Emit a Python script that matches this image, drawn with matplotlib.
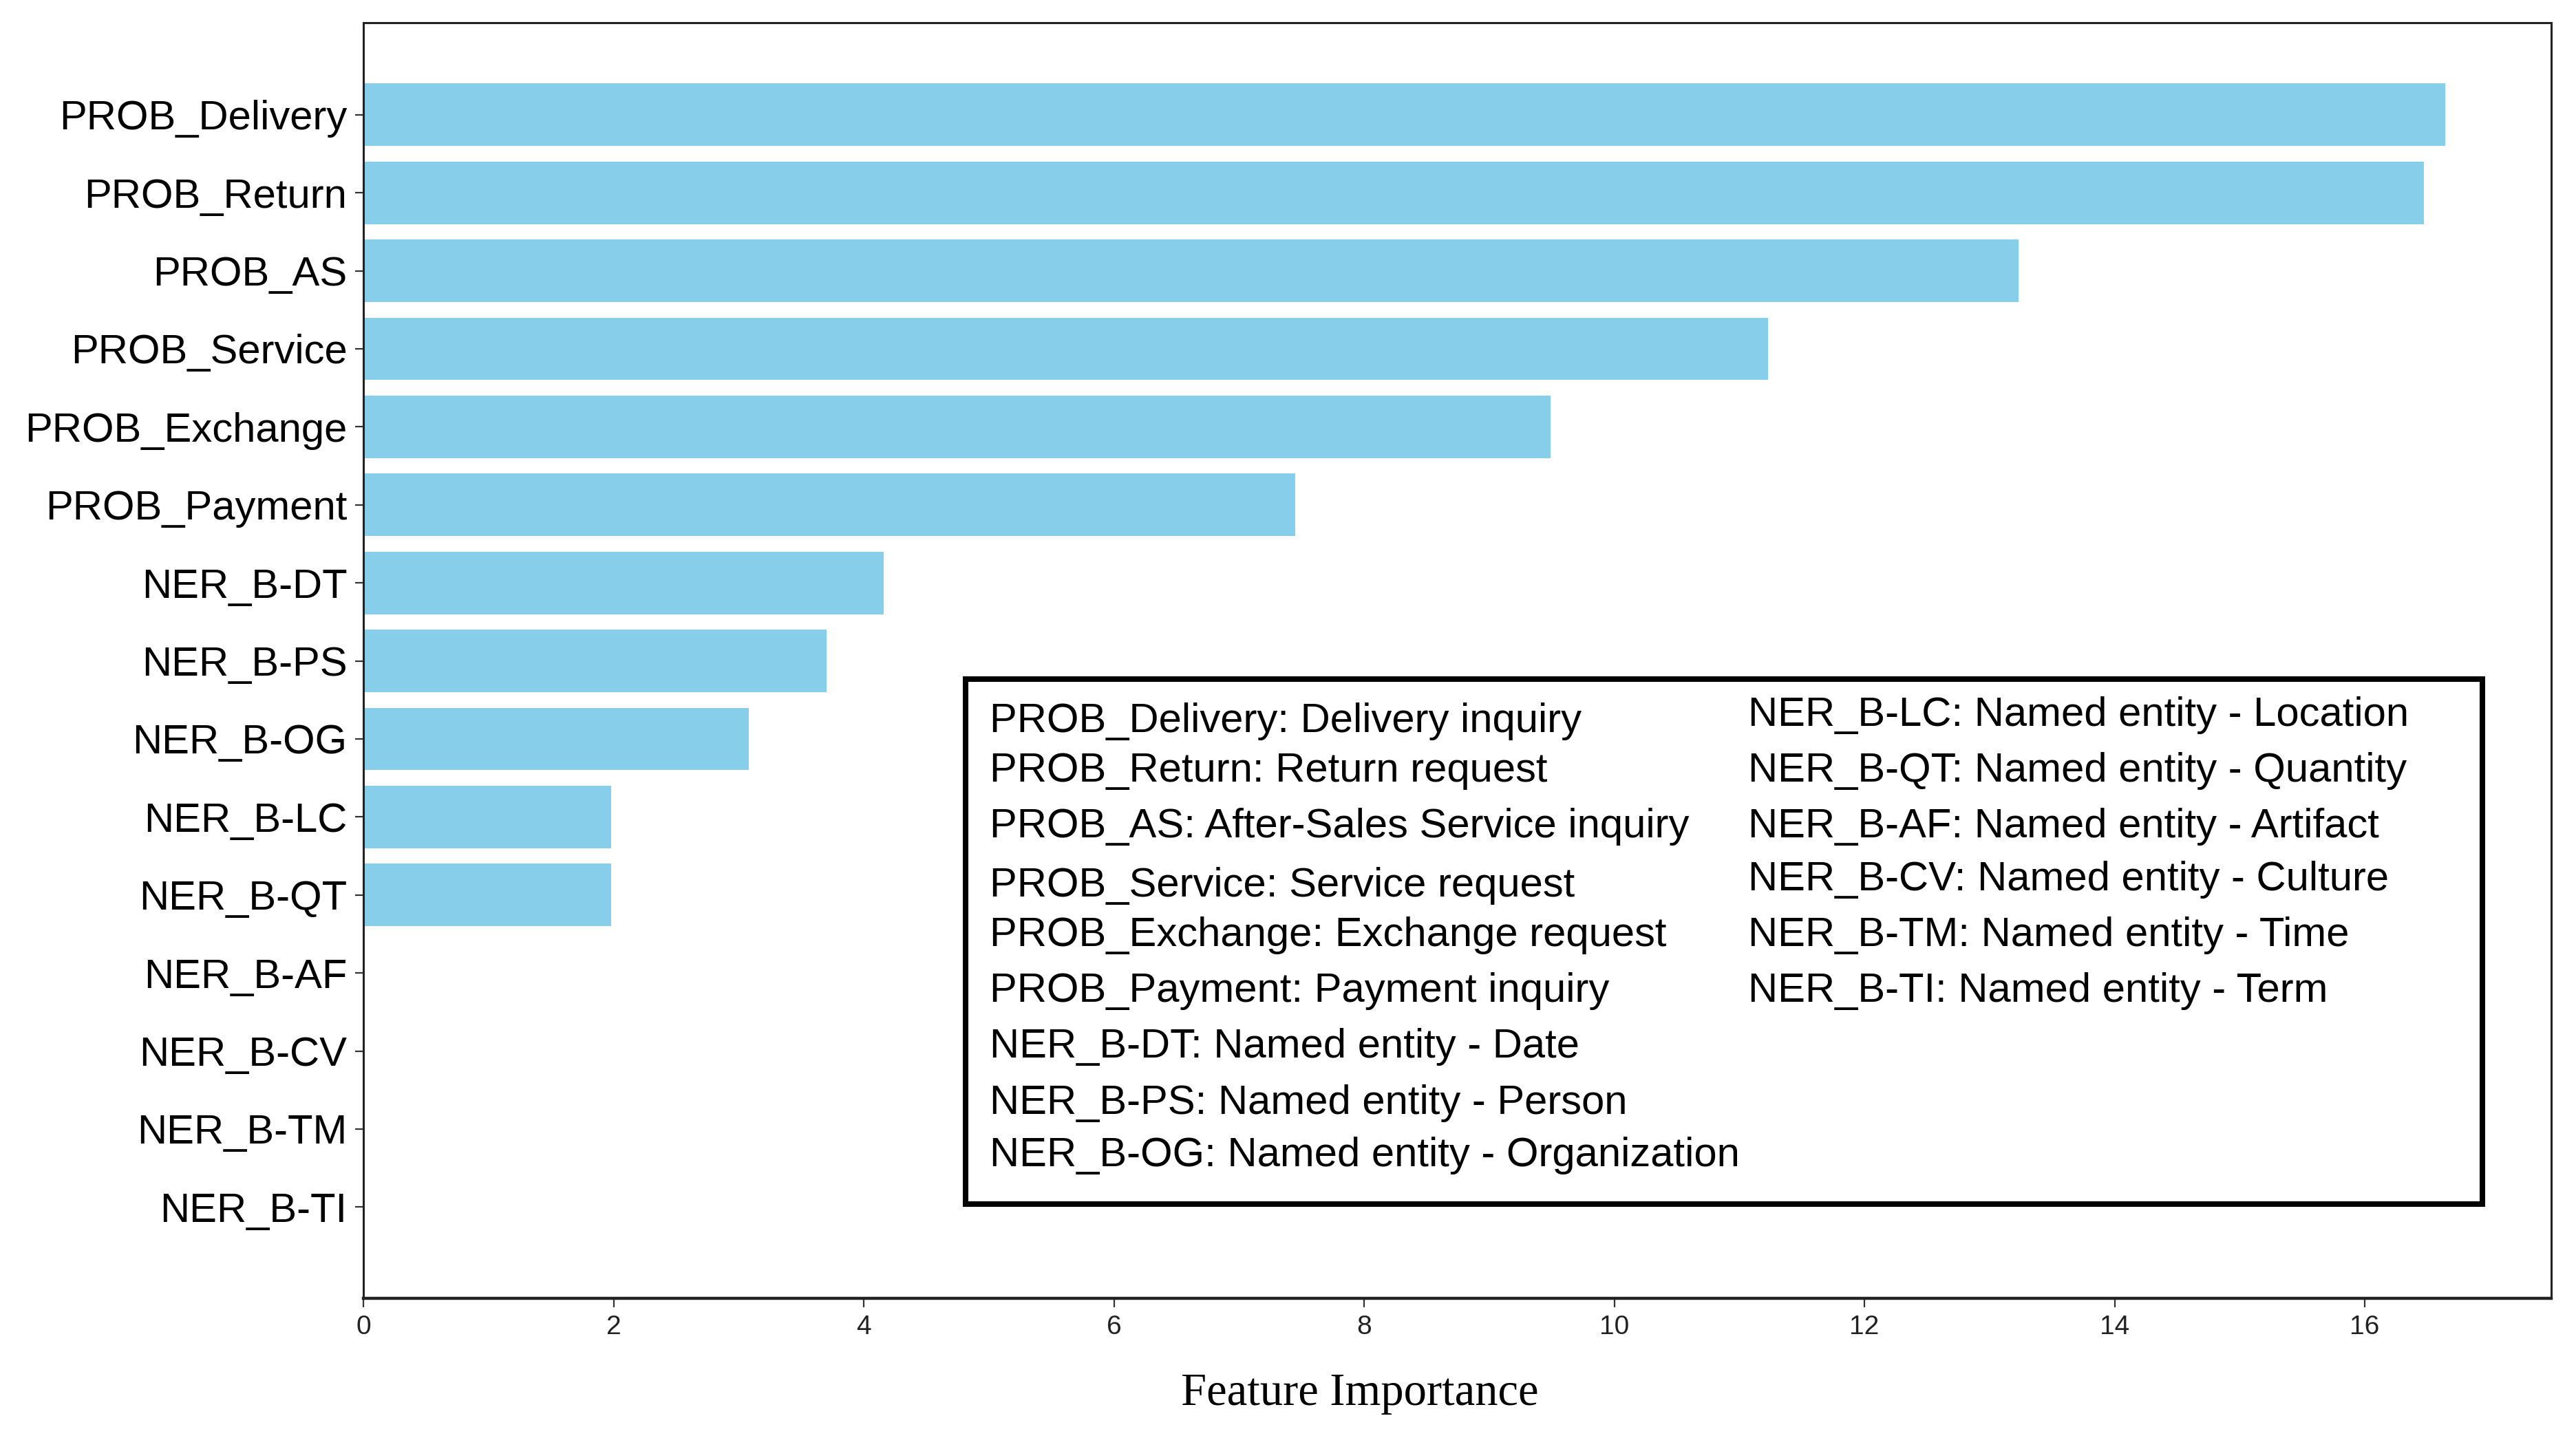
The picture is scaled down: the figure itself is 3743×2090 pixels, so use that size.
import matplotlib
matplotlib.use("Agg")
import matplotlib.pyplot as plt
from matplotlib.patches import Rectangle

features = ["PROB_Delivery", "PROB_Return", "PROB_AS", "PROB_Service", "PROB_Exchange",
            "PROB_Payment", "NER_B-DT", "NER_B-PS", "NER_B-OG", "NER_B-LC", "NER_B-QT",
            "NER_B-AF", "NER_B-CV", "NER_B-TM", "NER_B-TI"]
importance = [16.64, 16.47, 13.23, 11.23, 9.49, 7.45, 4.16, 3.70, 3.08, 1.98, 1.98,
              0.0, 0.0, 0.0, 0.0]
xticks = [0, 2, 4, 6, 8, 10, 12, 14, 16]

legend_left = ["PROB_Delivery: Delivery inquiry", "PROB_Return: Return request",
               "PROB_AS: After-Sales Service inquiry", "PROB_Service: Service request",
               "PROB_Exchange: Exchange request", "PROB_Payment: Payment inquiry",
               "NER_B-DT: Named entity - Date", "NER_B-PS: Named entity - Person",
               "NER_B-OG: Named entity - Organization"]
legend_right = ["NER_B-LC: Named entity - Location", "NER_B-QT: Named entity - Quantity",
                "NER_B-AF: Named entity - Artifact", "NER_B-CV: Named entity - Culture",
                "NER_B-TM: Named entity - Time", "NER_B-TI: Named entity - Term"]

SANS = ["Liberation Sans", "DejaVu Sans"]
SERIF = ["Liberation Serif", "DejaVu Serif"]

W, H = 3743, 2090
fig = plt.figure(figsize=(W / 200, H / 200), dpi=200)
ax = fig.add_axes([528 / W, 1 - 1887 / H, (3707 - 528) / W, (1887 - 33) / H])

ypos = list(range(len(features)))
ax.barh(ypos, importance, height=0.8, color="#87CEEB")
ax.set_yticks(ypos)
ax.set_yticklabels(features, fontsize=21.5, family=SANS)
ax.set_ylim(15.17, -1.18)
ax.set_xlim(0, 17.49)
ax.set_xticks(xticks)
ax.set_xticklabels([str(t) for t in xticks], fontsize=14, family=SANS, color="#222222")
ax.tick_params(axis="both", length=4.5, width=0.8, color="#333333", pad=4)
ax.set_xlabel("Feature Importance", fontsize=24, family=SERIF)
ax.xaxis.set_label_coords((1976 - 528) / (3707 - 528), (1887 - 2042) / (1887 - 33))
ax.xaxis.label.set_va("baseline")
for s in ax.spines.values():
    s.set_linewidth(1.1)
    s.set_color("#222222")
ax.spines["bottom"].set_linewidth(1.6)

# legend box
bx0, bx1 = 1403 / W, 3607 / W
by1, by0 = 1 - 987 / H, 1 - 1750 / H
fig.patches.append(Rectangle((bx0, by0), bx1 - bx0, by1 - by0, transform=fig.transFigure,
                             fill=False, edgecolor="black", linewidth=2.9))
left_base = [1064, 1136, 1217, 1303, 1375, 1456, 1537, 1619, 1695]
right_base = [1055, 1136, 1217, 1294, 1375, 1456]
for txt, yy in zip(legend_left, left_base):
    fig.text(1438 / W, 1 - yy / H, txt, fontsize=21.5, family=SANS, va="baseline", ha="left")
for txt, yy in zip(legend_right, right_base):
    fig.text(2540 / W, 1 - yy / H, txt, fontsize=21.5, family=SANS, va="baseline", ha="left")

fig.savefig("out.png", dpi=200, facecolor="white")
